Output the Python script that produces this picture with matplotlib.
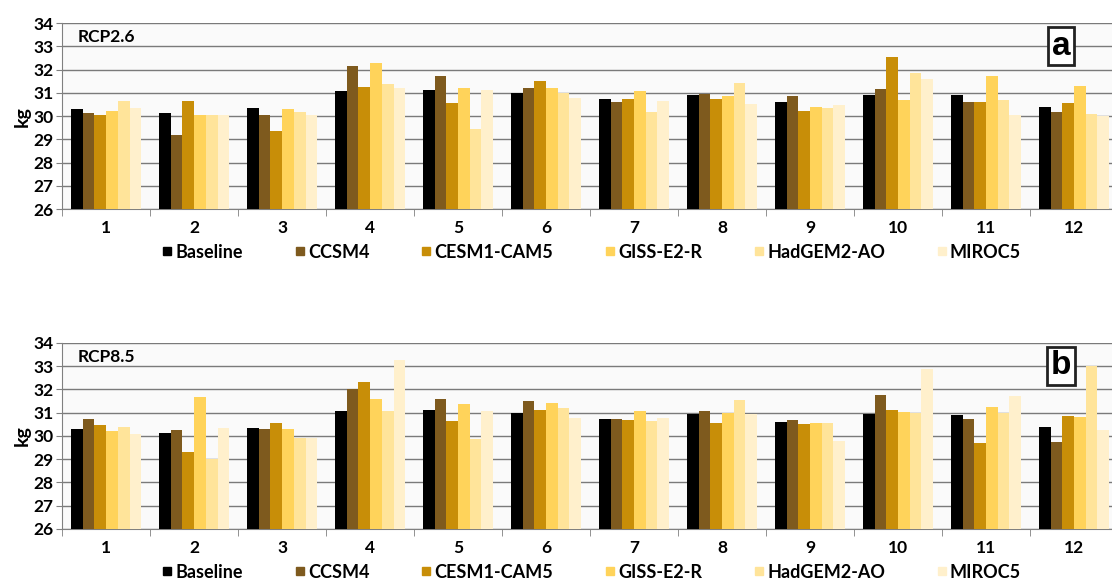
import numpy as np
import matplotlib.pyplot as plt
from matplotlib.lines import Line2D

plt.rcParams['font.family'] = ['Lato', 'DejaVu Sans']
plt.rcParams['font.weight'] = 'bold'

months = ['1', '2', '3', '4', '5', '6', '7', '8', '9', '10', '11', '12']
models = ['Baseline', 'CCSM4', 'CESM1-CAM5', 'GISS-E2-R', 'HadGEM2-AO', 'MIROC5']
colors = ['#000000', '#7e5a1e', '#c88e08', '#ffd35a', '#ffe49a', '#fff0cc']

# monthly mean weight (kg), RCP2.6
rcp26_baseline = [30.32, 30.13, 30.34, 31.09, 31.13, 31.00, 30.73, 30.92, 30.60, 30.92, 30.89, 30.39]
rcp26_ccsm4 = [30.13, 29.17, 30.06, 32.14, 31.73, 31.22, 30.62, 30.97, 30.86, 31.15, 30.59, 30.16]
rcp26_cesm1 = [30.03, 30.65, 29.37, 31.25, 30.56, 31.50, 30.75, 30.75, 30.20, 32.55, 30.60, 30.56]
rcp26_giss = [30.23, 30.03, 30.32, 32.27, 31.20, 31.20, 31.09, 30.85, 30.37, 30.70, 31.73, 31.30]
rcp26_hadgem = [30.66, 30.06, 30.16, 31.39, 29.43, 31.00, 30.19, 31.43, 30.34, 31.84, 30.70, 30.10]
rcp26_miroc5 = [30.34, 30.06, 30.06, 31.20, 31.13, 30.76, 30.65, 30.53, 30.49, 31.61, 30.03, 29.99]

# monthly mean weight (kg), RCP8.5
rcp85_baseline = [30.31, 30.11, 30.34, 31.07, 31.10, 31.01, 30.73, 30.93, 30.61, 30.93, 30.89, 30.40]
rcp85_ccsm4 = [30.71, 30.24, 30.31, 32.03, 31.60, 31.50, 30.74, 31.06, 30.67, 31.77, 30.74, 29.76]
rcp85_cesm1 = [30.49, 29.31, 30.54, 32.33, 30.63, 31.10, 30.69, 30.54, 30.53, 31.11, 29.69, 30.84]
rcp85_giss = [30.20, 31.66, 30.30, 31.61, 31.36, 31.43, 31.06, 30.99, 30.54, 31.03, 31.24, 30.83]
rcp85_hadgem = [30.40, 29.00, 29.91, 31.09, 29.87, 31.20, 30.64, 31.54, 30.54, 30.99, 30.99, 33.00]
rcp85_miroc5 = [30.07, 30.34, 29.91, 33.27, 31.07, 30.77, 30.77, 30.93, 29.79, 32.89, 31.71, 30.24]

rcp26 = [rcp26_baseline, rcp26_ccsm4, rcp26_cesm1, rcp26_giss, rcp26_hadgem, rcp26_miroc5]
rcp85 = [rcp85_baseline, rcp85_ccsm4, rcp85_cesm1, rcp85_giss, rcp85_hadgem, rcp85_miroc5]


def bar_panel(ax, data, scenario, letter):
    n = len(data)
    width = 0.8 / n
    x = np.arange(len(months))
    for i in range(n):
        offset = (i - n / 2) * width + width / 2
        ax.bar(x + offset, np.array(data[i]) - 26, bottom=26, width=width,
               color=colors[i], zorder=3, linewidth=0)
    ax.set_ylim(26, 34)
    ax.set_xlim(-0.5, len(months) - 0.5)
    ax.set_facecolor('#fafafa')
    ax.set_yticks(range(26, 35))
    ax.grid(axis='y', color='#7a7a7a', linewidth=1, zorder=0)
    ax.set_xticks(x)
    ax.set_xticklabels(months)
    ax.set_xticks(np.arange(-0.5, len(months), 1), minor=True)
    ax.tick_params(axis='x', which='major', length=0, pad=8, labelsize=12.5)
    ax.tick_params(axis='x', which='minor', length=5, color='#808080', direction='out')
    ax.tick_params(axis='y', length=4, color='#808080', labelsize=12.5, pad=2)
    for s in ['top', 'right']:
        ax.spines[s].set_visible(False)
    for s in ['left', 'bottom']:
        ax.spines[s].set_color('#808080')
    ax.set_ylabel('kg', fontsize=14, fontweight='bold', labelpad=2)
    ax.text(0.015, 0.925, scenario, transform=ax.transAxes, fontsize=12.5,
            fontweight='bold', va='center', ha='left', zorder=5)
    ax.text(0.946, 0.877, letter, transform=ax.transAxes, fontsize=24,
            fontweight='bold', family='Liberation Sans', va='center', ha='center', zorder=5,
            bbox=dict(boxstyle='square,pad=0.1', facecolor='white', edgecolor='#222222', linewidth=2))
    handles = [Line2D([], [], marker='s', linestyle='', color=c, markersize=6) for c in colors]
    ax.legend(handles, models, loc='center', bbox_to_anchor=(0.5, -0.232), ncol=6,
              frameon=False, fontsize=13, handletextpad=0.0, columnspacing=2.7,
              handlelength=0.9)


fig = plt.figure(figsize=(11.12, 5.79), dpi=100)
ax1 = fig.add_axes([0.0558, 0.639, 0.9496, 0.321])
ax2 = fig.add_axes([0.0558, 0.0864, 0.9496, 0.3212])

bar_panel(ax1, rcp26, 'RCP2.6', 'a')
bar_panel(ax2, rcp85, 'RCP8.5', 'b')

fig.savefig('out.png', dpi=100)
